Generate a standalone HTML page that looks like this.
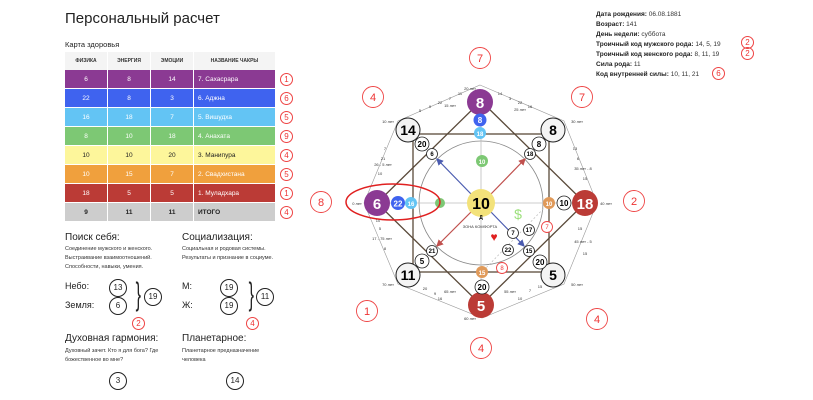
<!DOCTYPE html>
<html><head><meta charset="utf-8"><style>
body{margin:0;width:813px;height:400px;background:#fff;font-family:"Liberation Sans",sans-serif;position:relative;overflow:hidden;color:#222}
.a{position:absolute;white-space:nowrap}
table{position:absolute;left:64px;top:52px;width:212px;table-layout:fixed;border-collapse:separate;border-spacing:1px 0;font-size:6.5px}
td{height:18px;padding:0;border-bottom:1px solid #fff;text-align:center;color:#fff}
td.n{text-align:left;padding-left:4px}
th{height:18px;padding:0;font-size:5px;font-weight:bold;background:#f4f4f4;color:#333}
.rc{position:absolute;width:11px;height:11px;border:1px solid #e44;border-radius:50%;color:#e33;font-size:8px;text-align:center;line-height:11px}
.bc{position:absolute;width:16px;height:16px;border:1px solid #222;border-radius:50%;font-size:8px;text-align:center;line-height:16px}
.d{font-size:5.5px;color:#333;line-height:9px}
.h{font-size:10px;color:#222}
.i{font-size:6.5px;color:#333}
.i b{color:#222}
</style></head><body>
<div class="a" style="left:65px;top:10px;font-size:15px">Персональный расчет</div>
<div class="a" style="left:65px;top:40px;font-size:7.5px">Карта здоровья</div>
<table>
<colgroup><col style="width:42px"><col style="width:42px"><col style="width:42px"><col style="width:81px"></colgroup>
<tr><th>ФИЗИКА</th><th>ЭНЕРГИЯ</th><th>ЭМОЦИИ</th><th>НАЗВАНИЕ ЧАКРЫ</th></tr>
<tr style="background:#8b3a93"><td>6</td><td>8</td><td>14</td><td class="n">7. Сахасрара</td></tr>
<tr style="background:#3f63ef"><td>22</td><td>8</td><td>3</td><td class="n">6. Аджна</td></tr>
<tr style="background:#63c4f4"><td>16</td><td>18</td><td>7</td><td class="n">5. Вишудха</td></tr>
<tr style="background:#7dc874"><td>8</td><td>10</td><td>18</td><td class="n">4. Анахата</td></tr>
<tr style="background:#fdf69b;color:#222"><td style="color:#222">10</td><td style="color:#222">10</td><td style="color:#222">20</td><td class="n" style="color:#222">3. Манипура</td></tr>
<tr style="background:#f0a03d"><td>10</td><td>15</td><td>7</td><td class="n">2. Свадхистана</td></tr>
<tr style="background:#bb3b36"><td>18</td><td>5</td><td>5</td><td class="n">1. Муладхара</td></tr>
<tr style="background:#cdcdcd;font-weight:bold"><td style="color:#222">9</td><td style="color:#222">11</td><td style="color:#222">11</td><td class="n" style="color:#222">ИТОГО</td></tr>
</table>
<div class="rc" style="left:280px;top:73px">1</div>
<div class="rc" style="left:280px;top:92px">6</div>
<div class="rc" style="left:280px;top:111px">5</div>
<div class="rc" style="left:280px;top:130px">9</div>
<div class="rc" style="left:280px;top:149px">4</div>
<div class="rc" style="left:280px;top:168px">5</div>
<div class="rc" style="left:280px;top:187px">1</div>
<div class="rc" style="left:280px;top:206px">4</div>

<div class="a h" style="left:65px;top:232px">Поиск себя:</div>
<div class="a d" style="left:65px;top:245px">Соединение мужского и женского.<br>Выстраивание взаимоотношений.<br>Способности, навыки, умения.</div>
<div class="a" style="left:65px;top:281px;font-size:9px">Небо:</div>
<div class="a" style="left:65px;top:300px;font-size:9px">Земля:</div>
<div class="bc" style="left:109px;top:279px">13</div>
<div class="bc" style="left:109px;top:297px">6</div>
<div class="a" style="left:133px;top:276px;font-size:32px;font-weight:100;transform:scaleX(.5)">}</div>
<div class="bc" style="left:144px;top:288px">19</div>
<div class="rc" style="left:132px;top:317px">2</div>

<div class="a h" style="left:182px;top:232px">Социализация:</div>
<div class="a d" style="left:182px;top:245px">Социальная и родовая системы.<br>Результаты и признание в социуме.</div>
<div class="a" style="left:182px;top:281px;font-size:9px">М:</div>
<div class="a" style="left:182px;top:300px;font-size:9px">Ж:</div>
<div class="bc" style="left:220px;top:279px">19</div>
<div class="bc" style="left:220px;top:297px">19</div>
<div class="a" style="left:246px;top:276px;font-size:32px;font-weight:100;transform:scaleX(.5)">}</div>
<div class="bc" style="left:256px;top:288px">11</div>
<div class="rc" style="left:246px;top:317px">4</div>

<div class="a h" style="left:65px;top:333px">Духовная гармония:</div>
<div class="a d" style="left:65px;top:347px">Духовный зачет. Кто я для бога? Где<br>божественное во мне?</div>
<div class="bc" style="left:109px;top:372px">3</div>
<div class="a h" style="left:182px;top:333px">Планетарное:</div>
<div class="a d" style="left:182px;top:347px">Планетарное предназначение<br>человека</div>
<div class="bc" style="left:226px;top:372px">14</div>

<div class="a i" style="left:596px;top:10px;line-height:10px"><b>Дата рождения:</b> 06.08.1881<br><b>Возраст:</b> 141<br><b>День недели:</b> суббота<br><b>Троичный код мужского рода:</b> 14, 5, 19<br><b>Троичный код женского рода:</b> 8, 11, 19<br><b>Сила рода:</b> 11<br><b>Код внутренней силы:</b> 10, 11, 21</div>
<div class="rc" style="left:741px;top:36px">2</div>
<div class="rc" style="left:741px;top:47px">2</div>
<div class="rc" style="left:712px;top:67px">6</div>

<svg class="a" style="left:0;top:0" width="813" height="400" font-family="Liberation Sans,sans-serif" text-anchor="middle">
<defs>
<marker id="mb" markerWidth="6" markerHeight="6" refX="5" refY="3" orient="auto"><path d="M0,0L6,3L0,6z" fill="#4a5bb0"/></marker>
<marker id="mr" markerWidth="6" markerHeight="6" refX="5" refY="3" orient="auto"><path d="M0,0L6,3L0,6z" fill="#c0504d"/></marker>
</defs>
<g fill="none" stroke="#999" stroke-width="0.6">
<polygon points="480,85 564,121 597,203 564,284 482,318 398,284 364,203 398,121"/>
</g>
<g font-size="4" fill="#333">
<text x="440" y="104">22</text><text x="430" y="108">9</text><text x="450" y="100">7</text><text x="460" y="95">11</text><text x="420" y="112">5</text><text x="450" y="107">15 лет</text>
<text x="520" y="104">22</text><text x="530" y="108">16</text><text x="510" y="100">3</text><text x="500" y="95">14</text><text x="520" y="111">25 лет</text>
<text x="383" y="160">21</text><text x="380" y="175">10</text><text x="383" y="166">26 - 5 лет</text><text x="385" y="150">7</text>
<text x="578" y="160">6</text><text x="583" y="170">35 лет - 8</text><text x="585" y="180">15</text><text x="575" y="150">13</text>
<text x="382" y="240">17 - 75 лет</text><text x="380" y="230">5</text><text x="385" y="250">8</text><text x="378" y="222">10</text>
<text x="583" y="243">45 лет - 5</text><text x="585" y="255">15</text><text x="580" y="230">15</text>
<text x="440" y="300">16</text><text x="435" y="295">9</text><text x="450" y="293">65 лет</text><text x="425" y="290">20</text>
<text x="520" y="300">10</text><text x="510" y="293">55 лет</text><text x="530" y="292">7</text><text x="540" y="288">15</text>
<text x="470" y="90">20 лет</text><text x="388" y="123">10 лет</text><text x="577" y="123">30 лет</text><text x="357" y="205">0 лет</text><text x="606" y="205">40 лет</text><text x="388" y="286">70 лет</text><text x="577" y="286">50 лет</text><text x="470" y="320">60 лет</text>
</g>
<g fill="none" stroke="#5a4a3a" stroke-width="1.3">
<rect x="413" y="134" width="136" height="138"/>
<polygon points="481,101 585,203 481,305 377,203"/>
</g>
<circle cx="481" cy="203" r="62" fill="none" stroke="#888" stroke-width="0.8"/>
<g stroke="#bbb" stroke-width="0.8"><line x1="481" y1="101" x2="481" y2="305"/><line x1="377" y1="203" x2="585" y2="203"/></g>
<line x1="549" y1="203" x2="482" y2="272" stroke="#bbb" stroke-dasharray="2,2" stroke-width="0.7"/>
<g stroke-width="1.2">
<line x1="472" y1="195" x2="437" y2="159" stroke="#4a5bb0" marker-end="url(#mb)"/>
<line x1="490" y1="195" x2="525" y2="159" stroke="#c0504d" marker-end="url(#mr)"/>
<line x1="472" y1="211" x2="437" y2="246" stroke="#c0504d" marker-end="url(#mr)"/>
<line x1="490" y1="211" x2="524" y2="246" stroke="#4a5bb0" marker-end="url(#mb)"/>
</g>
<g font-weight="bold">
<circle cx="481" cy="203" r="14" fill="#f3e27a"/><text x="481" y="209" font-size="16">10</text>
<circle cx="480" cy="102" r="13" fill="#8b3a93"/><text x="480" y="108" font-size="15" fill="#fff">8</text>
<circle cx="377" cy="203" r="13" fill="#8b3a93"/><text x="377" y="209" font-size="15" fill="#fff">6</text>
<circle cx="585" cy="203" r="13" fill="#bb3b36"/><text x="585" y="209" font-size="15" fill="#fff">18</text>
<circle cx="481" cy="305" r="13" fill="#bb3b36"/><text x="481" y="311" font-size="15" fill="#fff">5</text>
<g fill="#f4f4f4" stroke="#222" stroke-width="1">
<circle cx="408" cy="130" r="12"/><circle cx="553" cy="130" r="12"/><circle cx="408" cy="275" r="12"/><circle cx="553" cy="275" r="12"/>
</g>
<g font-size="14"><text x="408" y="135">14</text><text x="553" y="135">8</text><text x="408" y="280">11</text><text x="553" y="280">5</text></g>
<circle cx="480" cy="120" r="6.5" fill="#3f63ef"/><text x="480" y="123" font-size="8" fill="#fff">8</text>
<circle cx="480" cy="133" r="6" fill="#63c4f4"/><text x="480" y="136" font-size="6" fill="#fff">18</text>
<circle cx="482" cy="161" r="6" fill="#7dc874"/><text x="482" y="164" font-size="6" fill="#fff">10</text>
<circle cx="398" cy="203" r="7" fill="#3f63ef"/><text x="398" y="206.5" font-size="8" fill="#fff">22</text>
<circle cx="411" cy="203" r="6" fill="#63c4f4"/><text x="411" y="206" font-size="6" fill="#fff">16</text>
<circle cx="440" cy="203" r="5" fill="#7dc874"/>
<circle cx="549" cy="203" r="6" fill="#e09a5a"/><text x="549" y="206" font-size="6" fill="#fff">10</text>
<circle cx="482" cy="272" r="6" fill="#e09a5a"/><text x="482" y="275" font-size="6" fill="#fff">15</text>
<g fill="#fff" stroke="#222" stroke-width="0.8">
<circle cx="564" cy="203" r="7"/><circle cx="482" cy="287" r="7"/><circle cx="422" cy="144" r="7"/><circle cx="432" cy="154" r="5.5"/><circle cx="539" cy="144" r="7"/><circle cx="530" cy="154" r="5.5"/><circle cx="422" cy="261" r="7"/><circle cx="432" cy="251" r="5.5"/><circle cx="540" cy="262" r="7"/><circle cx="529" cy="251" r="5.5"/><circle cx="513" cy="233" r="5.5"/><circle cx="529" cy="230" r="5.5"/><circle cx="508" cy="250" r="5.5"/>
</g>
<g font-size="8"><text x="564" y="206">10</text><text x="482" y="290">20</text><text x="422" y="147">20</text><text x="539" y="147">8</text><text x="422" y="264">5</text><text x="540" y="265">20</text></g>
<g font-size="6"><text x="432" y="156">6</text><text x="530" y="156">18</text><text x="432" y="253">21</text><text x="529" y="253">15</text><text x="513" y="235">7</text><text x="529" y="232">17</text><text x="508" y="252">22</text></g>
</g>
<text x="518" y="219" font-size="14" fill="#9be07a">$</text>
<text x="494" y="241" font-size="12" fill="#e02020">♥</text>
<text x="480" y="228" font-size="4" fill="#333">ЗОНА КОМФОРТА</text>
<text x="481" y="219" font-size="5" font-weight="bold">Д</text>
<g fill="#fff" stroke="#e44" stroke-width="0.9"><circle cx="547" cy="227" r="5.5"/><circle cx="502" cy="268" r="5.5"/></g>
<g fill="#e33" font-size="6"><text x="547" y="229">7</text><text x="502" y="270">8</text></g>
<ellipse cx="393" cy="202" rx="47" ry="18" fill="none" stroke="#e02020" stroke-width="1.5"/>
<g fill="#fff" stroke="#e44" stroke-width="0.9">
<circle cx="480" cy="58" r="10.5"/><circle cx="373" cy="97" r="10.5"/><circle cx="582" cy="97" r="10.5"/><circle cx="321" cy="202" r="10.5"/><circle cx="634" cy="201" r="10.5"/><circle cx="367" cy="311" r="10.5"/><circle cx="597" cy="319" r="10.5"/><circle cx="481" cy="348" r="10.5"/>
</g>
<g fill="#e33" font-size="11"><text x="480" y="62">7</text><text x="373" y="101">4</text><text x="582" y="101">7</text><text x="321" y="206">8</text><text x="634" y="205">2</text><text x="367" y="315">1</text><text x="597" y="323">4</text><text x="481" y="352">4</text></g>
</svg>
</body></html>
